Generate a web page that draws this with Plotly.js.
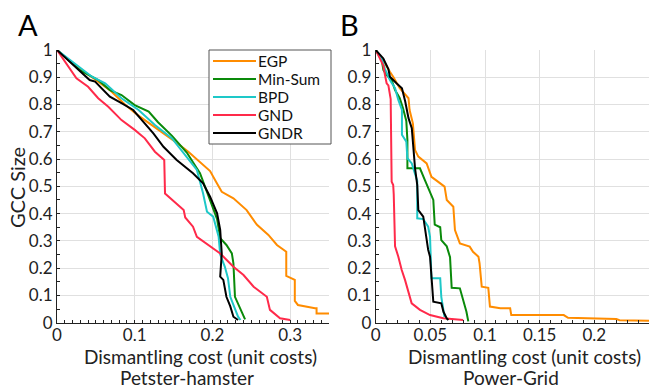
<!DOCTYPE html>
<html>
<head>
<meta charset="utf-8">
<script src="https://cdn.plot.ly/plotly-3.0.1.min.js"></script>
<style>html,body{margin:0;padding:0;background:#fff;}#chart{width:663px;height:389px;}</style>
</head>
<body>
<div id="chart"></div>
<script>
// Series names and colours
const seriesNames = ["EGP", "Min-Sum", "BPD", "GND", "GNDR"];
const seriesColors = ["#ff8c00", "#0a8a0a", "#1ec8c8", "#ff2a4a", "#000000"];

// Panel A: Petster-hamster
const egpA_x = [0, 0.02, 0.045, 0.068, 0.0875, 0.1, 0.113, 0.135, 0.152, 0.169, 0.18, 0.197, 0.205, 0.212, 0.227, 0.244, 0.257, 0.272, 0.283, 0.295, 0.295, 0.306, 0.306, 0.31, 0.332, 0.334, 0.334, 0.35];
const egpA_y = [1, 0.95, 0.9, 0.853, 0.8, 0.77, 0.743, 0.7, 0.664, 0.627, 0.6, 0.556, 0.515, 0.48, 0.456, 0.413, 0.36, 0.322, 0.285, 0.26, 0.172, 0.157, 0.08, 0.065, 0.053, 0.053, 0.034, 0.034];
const minsumA_x = [0, 0.03, 0.053, 0.068, 0.083, 0.1, 0.118, 0.13, 0.148, 0.167, 0.184, 0.197, 0.206, 0.21, 0.212, 0.218, 0.225, 0.227, 0.229, 0.233, 0.236, 0.242];
const minsumA_y = [1, 0.925, 0.89, 0.853, 0.835, 0.798, 0.774, 0.735, 0.685, 0.624, 0.548, 0.45, 0.38, 0.31, 0.303, 0.285, 0.254, 0.218, 0.095, 0.071, 0.047, 0.012];
const bpdA_x = [0, 0.023, 0.045, 0.062, 0.083, 0.105, 0.126, 0.148, 0.167, 0.18, 0.188, 0.193, 0.201, 0.208, 0.21, 0.216, 0.22, 0.223, 0.227, 0.233, 0.236];
const bpdA_y = [1, 0.951, 0.902, 0.878, 0.823, 0.78, 0.725, 0.676, 0.609, 0.56, 0.474, 0.407, 0.389, 0.315, 0.25, 0.205, 0.163, 0.095, 0.065, 0.022, 0.01];
const gndA_x = [0, 0.0146, 0.025, 0.04, 0.053, 0.066, 0.083, 0.1, 0.113, 0.126, 0.138, 0.139, 0.150, 0.163, 0.165, 0.175, 0.180, 0.197, 0.210, 0.227, 0.240, 0.253, 0.270, 0.274, 0.287, 0.300];
const gndA_y = [1, 0.939, 0.896, 0.865, 0.823, 0.792, 0.743, 0.707, 0.676, 0.627, 0.597, 0.474, 0.447, 0.413, 0.386, 0.352, 0.315, 0.279, 0.254, 0.205, 0.175, 0.132, 0.095, 0.047, 0.016, 0.01];
const gndrA_x = [0, 0.042, 0.049, 0.068, 0.083, 0.098, 0.124, 0.137, 0.154, 0.175, 0.188, 0.197, 0.206, 0.21, 0.212, 0.21, 0.214, 0.218, 0.223, 0.227, 0.233];
const gndrA_y = [1, 0.89, 0.884, 0.829, 0.805, 0.78, 0.694, 0.645, 0.597, 0.548, 0.511, 0.462, 0.401, 0.34, 0.254, 0.169, 0.157, 0.095, 0.06, 0.022, 0.01];

// Panel B: Power-Grid
const egpB_x = [0, 0.007, 0.013, 0.016, 0.022, 0.027, 0.030, 0.031, 0.034, 0.036, 0.039, 0.0466, 0.051, 0.056, 0.063, 0.065, 0.071, 0.0725, 0.0756, 0.077, 0.086, 0.089, 0.094, 0.095, 0.097, 0.103, 0.1045, 0.114, 0.123, 0.124, 0.172, 0.176, 0.22, 0.223, 0.25];
const egpB_y = [1, 0.96, 0.92, 0.902, 0.86, 0.835, 0.823, 0.78, 0.731, 0.633, 0.609, 0.584, 0.535, 0.52, 0.499, 0.45, 0.425, 0.34, 0.303, 0.291, 0.279, 0.26, 0.242, 0.218, 0.132, 0.128, 0.059, 0.053, 0.053, 0.028, 0.028, 0.018, 0.014, 0.009, 0.007];
const minsumB_x = [0, 0.0055, 0.007, 0.010, 0.0146, 0.0177, 0.022, 0.025, 0.028, 0.029, 0.029, 0.0405, 0.045, 0.0497, 0.0527, 0.054, 0.059, 0.060, 0.065, 0.068, 0.0695, 0.077, 0.080, 0.083, 0.0847];
const minsumB_y = [1, 0.963, 0.927, 0.908, 0.89, 0.853, 0.823, 0.786, 0.74, 0.67, 0.566, 0.566, 0.523, 0.48, 0.45, 0.36, 0.35, 0.303, 0.28, 0.24, 0.128, 0.126, 0.083, 0.04, 0.005];
const bpdB_x = [0, 0.0055, 0.0085, 0.013, 0.0177, 0.0207, 0.024, 0.024, 0.028, 0.029, 0.033, 0.036, 0.038, 0.038, 0.0435, 0.048, 0.0497, 0.051, 0.059, 0.060, 0.062, 0.063];
const bpdB_y = [1, 0.969, 0.93, 0.89, 0.86, 0.817, 0.78, 0.689, 0.664, 0.603, 0.584, 0.548, 0.52, 0.383, 0.38, 0.352, 0.315, 0.163, 0.163, 0.095, 0.04, 0.02];
const gndB_x = [0, 0.007, 0.0085, 0.010, 0.0116, 0.013, 0.0137, 0.0146, 0.016, 0.0165, 0.0177, 0.0207, 0.0238, 0.0268, 0.0298, 0.0329, 0.0405, 0.0497, 0.0618, 0.080];
const gndB_y = [1, 0.943, 0.908, 0.878, 0.87, 0.829, 0.82, 0.517, 0.505, 0.47, 0.28, 0.242, 0.193, 0.157, 0.114, 0.071, 0.047, 0.028, 0.016, 0.01];
const gndrB_x = [0, 0.007, 0.0116, 0.013, 0.019, 0.024, 0.027, 0.030, 0.033, 0.034, 0.036, 0.038, 0.039, 0.0435, 0.045, 0.048, 0.0497, 0.051, 0.0527, 0.060, 0.062, 0.065, 0.0665];
const gndrB_y = [1, 0.969, 0.93, 0.902, 0.878, 0.86, 0.811, 0.75, 0.713, 0.652, 0.566, 0.505, 0.413, 0.389, 0.346, 0.267, 0.242, 0.157, 0.077, 0.071, 0.04, 0.016, 0.01];

// Axis ticks
const yTickVals = [0, 0.1, 0.2, 0.3, 0.4, 0.5, 0.6, 0.7, 0.8, 0.9, 1];
const yTickText = ["0", "0.1", "0.2", "0.3", "0.4", "0.5", "0.6", "0.7", "0.8", "0.9", "1"];
const xATickVals = [0, 0.1, 0.2, 0.3];
const xATickText = ["0", "0.1", "0.2", "0.3"];
const xBTickVals = [0, 0.05, 0.1, 0.15, 0.2, 0.25];
const xBTickText = ["0", "0.05", "0.1", "0.15", "0.2", "0.25"];

const panelA = [[egpA_x, egpA_y], [minsumA_x, minsumA_y], [bpdA_x, bpdA_y], [gndA_x, gndA_y], [gndrA_x, gndrA_y]];
const panelB = [[egpB_x, egpB_y], [minsumB_x, minsumB_y], [bpdB_x, bpdB_y], [gndB_x, gndB_y], [gndrB_x, gndrB_y]];

const traces = [];
panelA.forEach((d, i) => traces.push({
  x: d[0], y: d[1], type: "scatter", mode: "lines", name: seriesNames[i],
  line: {color: seriesColors[i], width: 2}, xaxis: "x", yaxis: "y", showlegend: false
}));
panelB.forEach((d, i) => traces.push({
  x: d[0], y: d[1], type: "scatter", mode: "lines", name: seriesNames[i],
  line: {color: seriesColors[i], width: 2}, xaxis: "x2", yaxis: "y2", showlegend: false
}));

const W = 663, H = 389;
const px = v => v / W;
const py = v => 1 - v / H;
const font = "Lato, 'Open Sans', sans-serif";
const yDom = [py(322.7), py(50)];
const axisCommon = {
  showgrid: true, gridcolor: "#e0e0e0", gridwidth: 1, zeroline: false,
  showline: true, linecolor: "#222", linewidth: 1,
  ticks: "inside", ticklen: 3, tickcolor: "#222",
  fixedrange: true
};

// Legend drawn in the top-right of panel A (box + sample lines + names)
const legendBox = {x0: 209, y0: 50, x1: 331, y1: 144};
const legendRows = [61, 79, 97, 115, 133];
const shapes = [{
  type: "rect", xref: "paper", yref: "paper",
  x0: px(legendBox.x0), x1: px(legendBox.x1), y0: py(legendBox.y1), y1: py(legendBox.y0),
  line: {color: "#555", width: 1}, fillcolor: "#fff", layer: "above"
}];
const annotations = [];
seriesNames.forEach((n, i) => {
  shapes.push({
    type: "line", xref: "paper", yref: "paper",
    x0: px(213), x1: px(256), y0: py(legendRows[i]), y1: py(legendRows[i]),
    line: {color: seriesColors[i], width: 2}, layer: "above"
  });
  annotations.push({
    text: n, xref: "paper", yref: "paper", x: px(256), y: py(legendRows[i]),
    xanchor: "left", yanchor: "middle", showarrow: false,
    font: {family: font, size: 15.5, color: "#111"}
  });
});

annotations.push(
  {text: "A", xref: "paper", yref: "paper", x: px(16), y: py(25), xanchor: "left", yanchor: "middle", showarrow: false, font: {family: font, size: 29, color: "#000"}},
  {text: "B", xref: "paper", yref: "paper", x: px(338), y: py(25), xanchor: "left", yanchor: "middle", showarrow: false, font: {family: font, size: 29, color: "#000"}},
  {text: "GCC Size", xref: "paper", yref: "paper", x: px(17), y: py(188), xanchor: "center", yanchor: "middle", textangle: -90, showarrow: false, font: {family: font, size: 20, color: "#222"}},
  {text: "Dismantling cost (unit costs)", xref: "paper", yref: "paper", x: px(200), y: py(356), xanchor: "center", yanchor: "middle", showarrow: false, font: {family: font, size: 19, color: "#222"}},
  {text: "Petster-hamster", xref: "paper", yref: "paper", x: px(187), y: py(377), xanchor: "center", yanchor: "middle", showarrow: false, font: {family: font, size: 19, color: "#222"}},
  {text: "Dismantling cost (unit costs)", xref: "paper", yref: "paper", x: px(524), y: py(356), xanchor: "center", yanchor: "middle", showarrow: false, font: {family: font, size: 19, color: "#222"}},
  {text: "Power-Grid", xref: "paper", yref: "paper", x: px(511), y: py(377), xanchor: "center", yanchor: "middle", showarrow: false, font: {family: font, size: 19, color: "#222"}}
);

const layout = {
  width: W, height: H,
  margin: {l: 0, r: 0, t: 0, b: 0},
  paper_bgcolor: "#fff", plot_bgcolor: "#fff",
  font: {family: font, color: "#222"},
  showlegend: false,
  xaxis: Object.assign({}, axisCommon, {
    domain: [px(57), px(329)], range: [0, 0.35], anchor: "y",
    tickmode: "array", tickvals: xATickVals, ticktext: xATickText,
    tickfont: {size: 17, family: font}, ticklabelstandoff: -3,
    minor: {dtick: 0.01, ticks: "inside", ticklen: 3, tickcolor: "#222", showgrid: false}
  }),
  yaxis: Object.assign({}, axisCommon, {
    domain: yDom, range: [0, 1], anchor: "x",
    tickmode: "array", tickvals: yTickVals, ticktext: yTickText,
    tickfont: {size: 17, family: font},
    minor: {dtick: 0.05, ticks: "inside", ticklen: 3, tickcolor: "#222", showgrid: false}
  }),
  xaxis2: Object.assign({}, axisCommon, {
    domain: [px(375.7), px(649)], range: [0, 0.25], anchor: "y2",
    tickmode: "array", tickvals: xBTickVals, ticktext: xBTickText,
    tickfont: {size: 17, family: font}, ticklabelstandoff: -3,
    minor: {dtick: 0.01, ticks: "inside", ticklen: 3, tickcolor: "#222", showgrid: false}
  }),
  yaxis2: Object.assign({}, axisCommon, {
    domain: yDom, range: [0, 1], anchor: "x2",
    tickmode: "array", tickvals: yTickVals, ticktext: yTickText,
    tickfont: {size: 17, family: font},
    minor: {dtick: 0.05, ticks: "inside", ticklen: 3, tickcolor: "#222", showgrid: false}
  }),
  shapes: shapes,
  annotations: annotations
};

Plotly.newPlot("chart", traces, layout, {displayModeBar: false, staticPlot: true});
</script>
</body>
</html>
